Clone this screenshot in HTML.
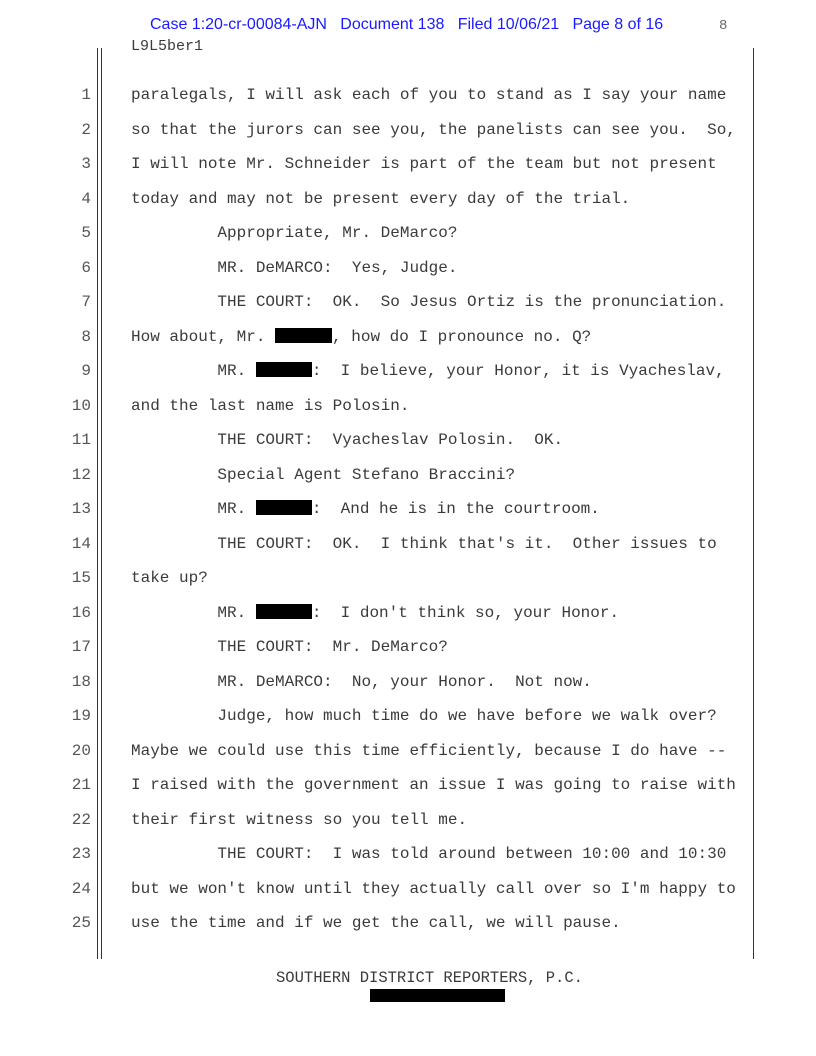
<!DOCTYPE html>
<html><head><meta charset="utf-8"><style>
html,body{margin:0;padding:0;background:#fff}
body{width:816px;height:1056px;position:relative;overflow:hidden}
.m{font-family:"Liberation Mono",monospace;font-size:16px;color:#3a3a3a;position:absolute;white-space:pre;line-height:20px}
.n{position:absolute;width:40px;left:51px;text-align:right;font-family:"Liberation Mono",monospace;font-size:16px;color:#555;line-height:20px}
.r{display:inline-block;background:#000;height:15px;vertical-align:-2px}
.vl{position:absolute;width:1px;background:#333}
</style></head><body>
<div style="position:absolute;left:150px;top:14px;font-family:'Liberation Sans',sans-serif;font-size:16px;color:#1a1aff;white-space:pre;line-height:22px">Case 1:20-cr-00084-AJN   Document 138   Filed 10/06/21   Page 8 of 16</div>
<div class="m" style="left:719px;top:16px;color:#666;font-size:14px">8</div>
<div class="m" style="left:131px;top:37px;font-size:15px">L9L5ber1</div>
<div class="vl" style="left:97px;top:48px;height:911px"></div>
<div class="vl" style="left:101px;top:48px;height:911px"></div>
<div class="vl" style="left:753px;top:48px;height:911px"></div>

<div class="n" style="top:85px">1</div><div class="m" style="left:131px;top:85px">paralegals, I will ask each of you to stand as I say your name</div>
<div class="n" style="top:120px">2</div><div class="m" style="left:131px;top:120px">so that the jurors can see you, the panelists can see you.  So,</div>
<div class="n" style="top:154px">3</div><div class="m" style="left:131px;top:154px">I will note Mr. Schneider is part of the team but not present</div>
<div class="n" style="top:189px">4</div><div class="m" style="left:131px;top:189px">today and may not be present every day of the trial.</div>
<div class="n" style="top:223px">5</div><div class="m" style="left:131px;top:223px">         Appropriate, Mr. DeMarco?</div>
<div class="n" style="top:258px">6</div><div class="m" style="left:131px;top:258px">         MR. DeMARCO:  Yes, Judge.</div>
<div class="n" style="top:292px">7</div><div class="m" style="left:131px;top:292px">         THE COURT:  OK.  So Jesus Ortiz is the pronunciation.</div>
<div class="n" style="top:327px">8</div><div class="m" style="left:131px;top:327px">How about, Mr. <span class="r" style="width:57px"></span>, how do I pronounce no. Q?</div>
<div class="n" style="top:361px">9</div><div class="m" style="left:131px;top:361px">         MR. <span class="r" style="width:56px"></span>:  I believe, your Honor, it is Vyacheslav,</div>
<div class="n" style="top:396px">10</div><div class="m" style="left:131px;top:396px">and the last name is Polosin.</div>
<div class="n" style="top:430px">11</div><div class="m" style="left:131px;top:430px">         THE COURT:  Vyacheslav Polosin.  OK.</div>
<div class="n" style="top:465px">12</div><div class="m" style="left:131px;top:465px">         Special Agent Stefano Braccini?</div>
<div class="n" style="top:499px">13</div><div class="m" style="left:131px;top:499px">         MR. <span class="r" style="width:56px"></span>:  And he is in the courtroom.</div>
<div class="n" style="top:534px">14</div><div class="m" style="left:131px;top:534px">         THE COURT:  OK.  I think that's it.  Other issues to</div>
<div class="n" style="top:568px">15</div><div class="m" style="left:131px;top:568px">take up?</div>
<div class="n" style="top:603px">16</div><div class="m" style="left:131px;top:603px">         MR. <span class="r" style="width:56px"></span>:  I don't think so, your Honor.</div>
<div class="n" style="top:637px">17</div><div class="m" style="left:131px;top:637px">         THE COURT:  Mr. DeMarco?</div>
<div class="n" style="top:672px">18</div><div class="m" style="left:131px;top:672px">         MR. DeMARCO:  No, your Honor.  Not now.</div>
<div class="n" style="top:706px">19</div><div class="m" style="left:131px;top:706px">         Judge, how much time do we have before we walk over?</div>
<div class="n" style="top:741px">20</div><div class="m" style="left:131px;top:741px">Maybe we could use this time efficiently, because I do have --</div>
<div class="n" style="top:775px">21</div><div class="m" style="left:131px;top:775px">I raised with the government an issue I was going to raise with</div>
<div class="n" style="top:810px">22</div><div class="m" style="left:131px;top:810px">their first witness so you tell me.</div>
<div class="n" style="top:844px">23</div><div class="m" style="left:131px;top:844px">         THE COURT:  I was told around between 10:00 and 10:30</div>
<div class="n" style="top:879px">24</div><div class="m" style="left:131px;top:879px">but we won't know until they actually call over so I'm happy to</div>
<div class="n" style="top:913px">25</div><div class="m" style="left:131px;top:913px">use the time and if we get the call, we will pause.</div>

<div class="m" style="left:276px;top:968px;font-size:15.5px">SOUTHERN DISTRICT REPORTERS, P.C.</div>
<div style="position:absolute;left:370px;top:989px;width:135px;height:13px;background:#000"></div>
</body></html>
